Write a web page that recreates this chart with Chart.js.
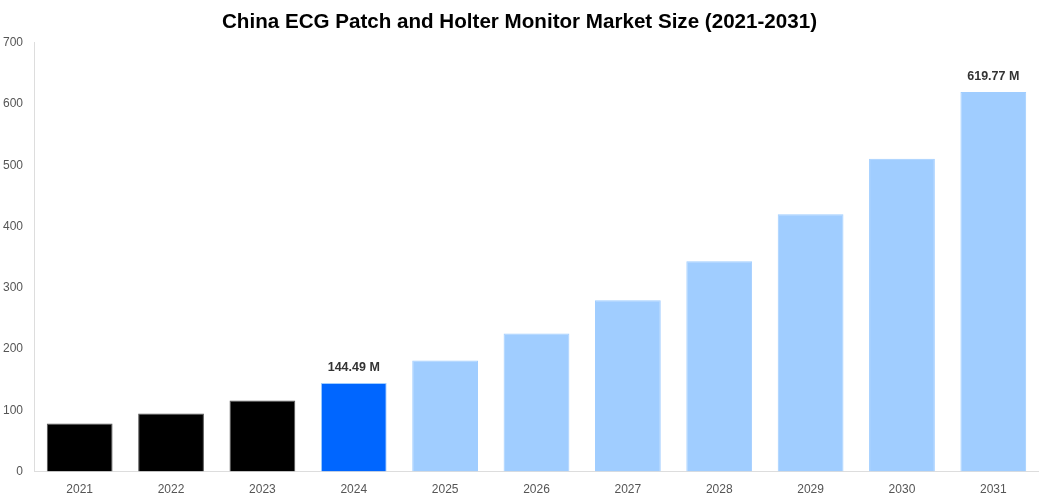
<!DOCTYPE html>
<html>
<head>
<meta charset="utf-8">
<script src="https://cdn.jsdelivr.net/npm/chart.js@4/dist/chart.umd.min.js"></script>
<style>
  html, body { margin: 0; padding: 0; background: #fff; }
  #wrap { width: 1039px; height: 500px; }
</style>
</head>
<body>
<div id="wrap"><canvas id="chart"></canvas></div>
<script>
const years = ["2021", "2022", "2023", "2024", "2025", "2026", "2027", "2028", "2029", "2030", "2031"];
const marketSize = [78.5, 95, 116, 144.49, 181.5, 225.5, 279.5, 343.5, 420, 510.5, 619.77];
const barColors = ["#000000", "#000000", "#000000", "#0066ff", "#a0cdff", "#a0cdff", "#a0cdff", "#a0cdff", "#a0cdff", "#a0cdff", "#a0cdff"];
const borderColors = ["#555555", "#555555", "#555555", "#a0cdff", "#a0cdff", "#a0cdff", "#a0cdff", "#a0cdff", "#a0cdff", "#a0cdff", "#a0cdff"];
const labelledYears = ["2024", "2031"];

// value labels above selected bars
const barLabels = {
  id: "barLabels",
  afterDatasetsDraw(chart) {
    const ctx = chart.ctx;
    const meta = chart.getDatasetMeta(0);
    ctx.save();
    ctx.font = "bold 12.5px 'Liberation Sans', Arial, sans-serif";
    ctx.fillStyle = "#333";
    ctx.textAlign = "center";
    ctx.textBaseline = "bottom";
    meta.data.forEach((bar, i) => {
      if (!labelledYears.includes(years[i])) return;
      ctx.fillText(marketSize[i].toFixed(2) + " M", bar.x, bar.y - 9);
    });
    ctx.restore();
  }
};

new Chart(document.getElementById("chart"), {
  type: "bar",
  data: {
    labels: years,
    datasets: [{
      data: marketSize,
      backgroundColor: barColors,
      borderColor: borderColors,
      borderWidth: 1,
      categoryPercentage: 0.9,
      barPercentage: 0.8
    }]
  },
  options: {
    responsive: true,
    maintainAspectRatio: false,
    animation: false,
    layout: { padding: 0 },
    plugins: {
      legend: { display: false },
      tooltip: { enabled: false },
      title: {
        display: true,
        text: "China ECG Patch and Holter Monitor Market Size (2021-2031)",
        color: "#000",
        font: { family: "'Liberation Sans', Arial, sans-serif", size: 20.6, weight: "bold" },
        padding: { top: 10, bottom: 8 }
      }
    },
    scales: {
      x: {
        grid: { display: false },
        border: { color: "#ddd" },
        ticks: { color: "#555", font: { family: "'Liberation Sans', Arial, sans-serif", size: 12 }, padding: 3 }
      },
      y: {
        min: 0,
        max: 700,
        grid: { display: false },
        border: { color: "#ddd" },
        ticks: { stepSize: 100, color: "#555", font: { family: "'Liberation Sans', Arial, sans-serif", size: 12 }, padding: 3 },
        afterFit(scale) { scale.width = 34; }
      }
    }
  },
  plugins: [barLabels]
});
</script>
</body>
</html>
